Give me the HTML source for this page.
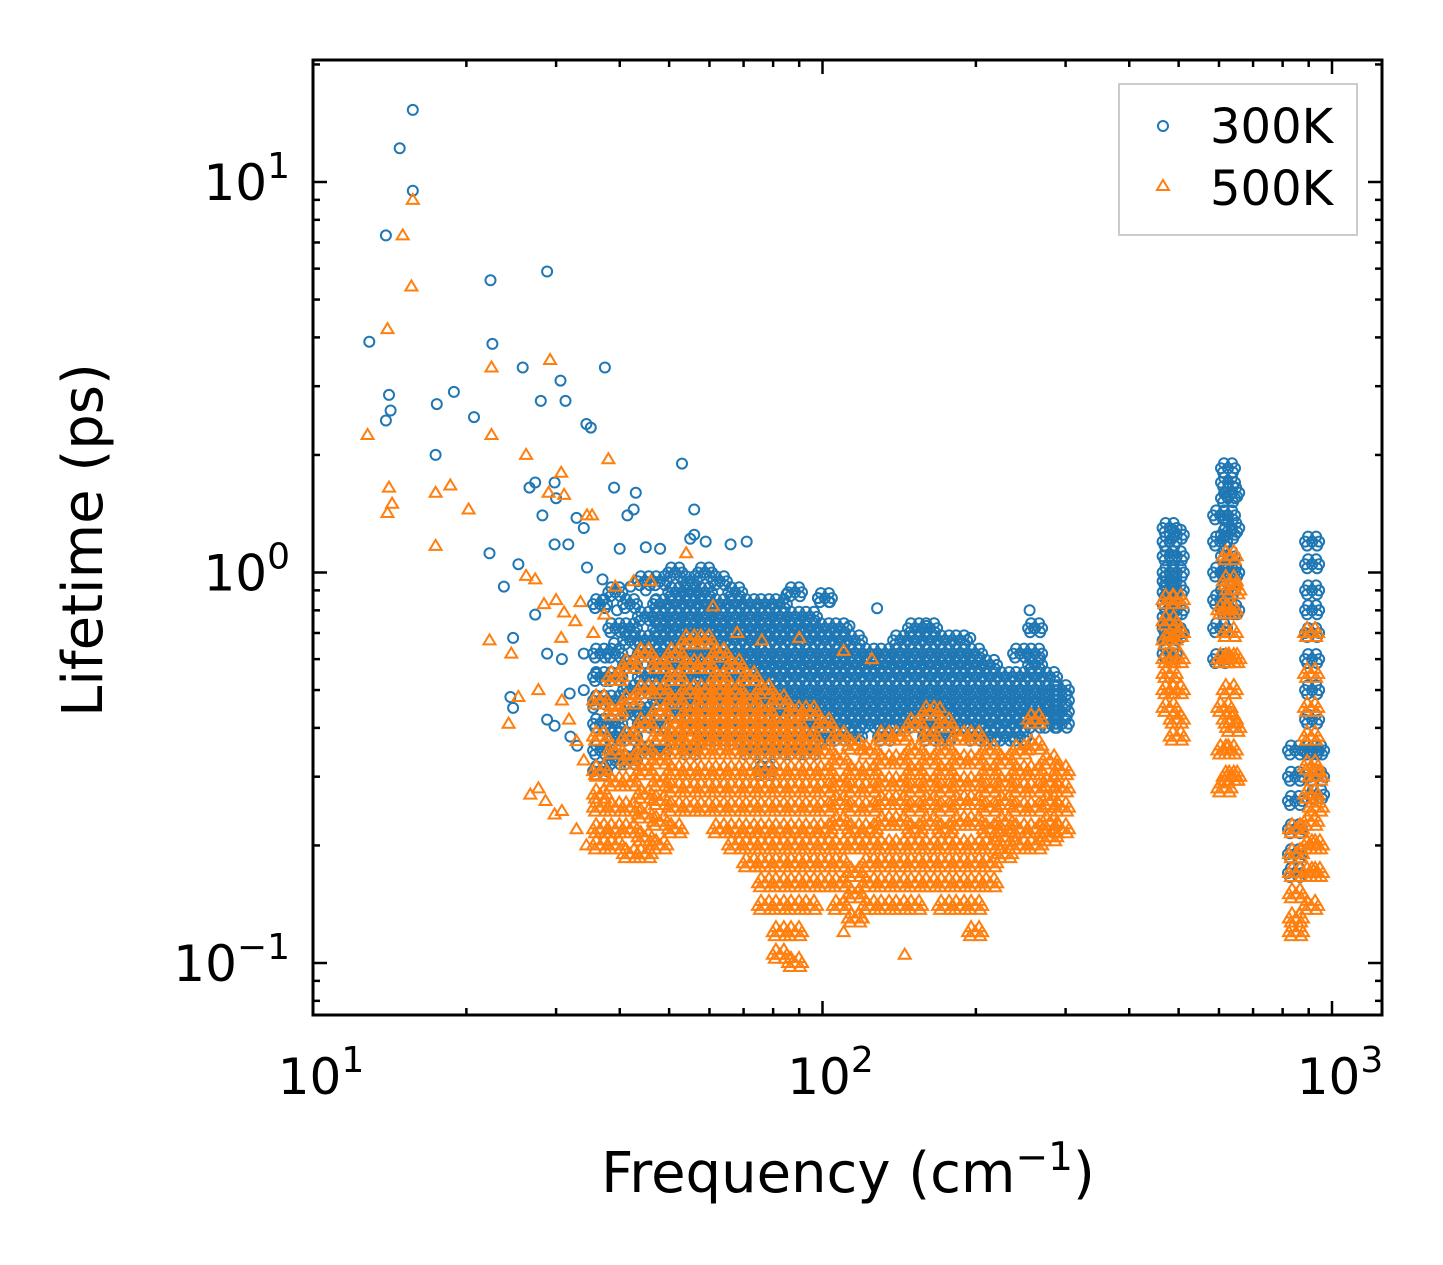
<!DOCTYPE html>
<html><head><meta charset="utf-8"><style>
html,body{margin:0;padding:0;background:#fff}
svg{display:block}
text{font-family:"DejaVu Sans","Liberation Sans",sans-serif;fill:#000}
</style></head><body>
<svg id="chart" width="1443" height="1265" viewBox="0 0 1443 1265" xmlns="http://www.w3.org/2000/svg">
<rect x="0" y="0" width="1443" height="1265" fill="#fff"/>
<g id="marks"></g>
<g id="axes"></g>
<g id="legend">
<rect x="1119" y="84" width="238" height="151" fill="#fff" fill-opacity="0.8" stroke="#ccc" stroke-width="2"/>
<circle cx="1163" cy="126" r="5" fill="none" stroke="#1f77b4" stroke-width="2"/>
<text x="1210" y="143" font-size="48">300K</text>
<path d="M1163 180 L1169 190 L1157 190 Z" fill="none" stroke="#ff7f0e" stroke-width="2"/>
<text x="1210" y="205" font-size="48">500K</text>
</g>
<text x="848" y="1192" font-size="56" text-anchor="middle">Frequency (cm<tspan dy="-22" font-size="39">−1</tspan><tspan dy="22">)</tspan></text>
<text transform="translate(102,540) rotate(-90)" font-size="56" text-anchor="middle">Lifetime (ps)</text>
</svg>
<script>
// ---- data: sparse points ----
const sparseFreq300 = [15.7,14.8,15.7,13.9,12.9,14.1,14.2,13.9,17.5,18.9,20.7,17.4,22.3,22.5,25.8,28.8,30.6,28.0,31.3,37.4,34.4,35.1,53,26.6,27.3,29.8,30.0,39,43,22.2,25.3,29.8,31.7,28.2,32.9,34,41.4,42.6,40,45,48,55,56,66,71,23.7,24.7,27.3,28.8,30.8,24.4,24.7,28.8,29.8,31.9,34,36,39,39.5,34.5,37,37,42,45,47,85,98,103,128,255,160,195,113,260,56,59,34,35.5,32,33];
const sparseLife300 = [15.3,12.2,9.5,7.3,3.9,2.85,2.6,2.45,2.7,2.9,2.5,2.0,5.6,3.85,3.35,5.9,3.1,2.75,2.75,3.35,2.4,2.35,1.9,1.65,1.7,1.7,1.55,1.65,1.6,1.12,1.05,1.18,1.18,1.4,1.38,1.3,1.4,1.45,1.15,1.16,1.15,1.22,1.45,1.18,1.2,0.92,0.68,0.78,0.62,0.6,0.48,0.45,0.42,0.405,0.49,0.62,0.55,0.66,0.8,1.03,0.85,0.96,0.92,0.9,0.85,0.88,0.86,0.84,0.81,0.8,0.73,0.68,0.73,0.72,1.25,1.2,0.5,0.45,0.38,0.36];
const sparseFreq500 = [15.7,15.0,15.6,14.0,12.8,14.1,14.3,14.0,17.4,17.4,18.6,20.2,22.4,22.4,26.2,29.2,30.7,29.0,31.1,34.5,35.3,38,22.2,24.5,24.2,26.2,27.3,28.4,30.0,30.7,31.1,32.7,33.5,35.5,37.3,39.2,42.6,46,54,61,26.7,27.7,28.6,29.8,30.8,25.3,27.7,30.8,31.8,32.9,34,36,32.9,34.4,68,76,90,110,125,145,120,110,170];
const sparseLife500 = [9.0,7.3,5.4,4.2,2.25,1.65,1.5,1.42,1.6,1.17,1.67,1.45,3.35,2.25,2.0,3.5,1.8,1.6,1.58,1.4,1.4,1.95,0.67,0.62,0.41,0.98,0.96,0.83,0.85,0.68,0.79,0.75,0.84,0.7,0.78,0.92,0.95,0.95,1.12,0.82,0.27,0.28,0.26,0.24,0.245,0.48,0.5,0.47,0.42,0.37,0.33,0.3,0.22,0.2,0.7,0.67,0.68,0.63,0.6,0.105,0.13,0.12,0.45];
// ---- data: dense clouds, per frequency column ----
const colFreq300 = [36.6,39.2,41.9,44.8,48.0,51.4,55.0,58.8,62.9,67.4,72.1,77.1,82.5,88.3,94.5,101.1,108.2,115.8,123.9,132.7,142.0,151.9,162.6,174.0,186.2,199.3,213.3,228.2,244.2,261.4,279.7,295.1,480,496,603,625,637,846,914,935];
const colLife300 = [
[0.83,0.62,0.54,0.47,0.41,0.35,0.31],
[0.89,0.72,0.62,0.54,0.47,0.41,0.38,0.33],
[0.83,0.72,0.67,0.58,0.5,0.44,0.38,0.33],
[0.95,0.77,0.67,0.62,0.54,0.5,0.44,0.41,0.35],
[0.95,0.83,0.77,0.72,0.67,0.62,0.58,0.54,0.5,0.47,0.41,0.35],
[1.0,0.89,0.83,0.77,0.72,0.67,0.62,0.58,0.54,0.5,0.47,0.44,0.38],
[0.95,0.89,0.83,0.77,0.72,0.67,0.62,0.58,0.54,0.5,0.47,0.44,0.41,0.35],
[1.0,0.89,0.83,0.77,0.72,0.67,0.62,0.58,0.54,0.5,0.47,0.44,0.41,0.38],
[0.95,0.83,0.77,0.72,0.67,0.62,0.58,0.54,0.5,0.47,0.44,0.41,0.38],
[0.89,0.83,0.77,0.72,0.67,0.62,0.58,0.54,0.5,0.47,0.44,0.41,0.38],
[0.83,0.77,0.72,0.67,0.62,0.58,0.54,0.5,0.47,0.44,0.41,0.38,0.35],
[0.83,0.77,0.72,0.67,0.62,0.58,0.54,0.5,0.47,0.44,0.41,0.38,0.35,0.31],
[0.83,0.77,0.72,0.67,0.62,0.58,0.54,0.5,0.47,0.44,0.41,0.38,0.35],
[0.89,0.77,0.72,0.67,0.62,0.58,0.54,0.5,0.47,0.44,0.41,0.38,0.35],
[0.77,0.72,0.67,0.62,0.58,0.54,0.5,0.47,0.44,0.41,0.38,0.35],
[0.86,0.72,0.67,0.62,0.58,0.54,0.5,0.47,0.44,0.41,0.38],
[0.72,0.67,0.62,0.58,0.54,0.5,0.47,0.44,0.41,0.38],
[0.67,0.62,0.58,0.54,0.5,0.47,0.44,0.41,0.38],
[0.62,0.58,0.54,0.5,0.47,0.44,0.41],
[0.62,0.58,0.54,0.5,0.47,0.44,0.41,0.38],
[0.67,0.62,0.58,0.54,0.5,0.47,0.44,0.41],
[0.72,0.67,0.62,0.58,0.54,0.5,0.47,0.44,0.41],
[0.72,0.67,0.62,0.58,0.54,0.5,0.47,0.44,0.41,0.38],
[0.67,0.62,0.58,0.54,0.5,0.47,0.44,0.41,0.38],
[0.67,0.62,0.58,0.54,0.5,0.47,0.44,0.41],
[0.62,0.58,0.54,0.5,0.47,0.44,0.41,0.38],
[0.58,0.54,0.5,0.47,0.44,0.41,0.38],
[0.54,0.5,0.47,0.44,0.41,0.38],
[0.62,0.54,0.5,0.47,0.44,0.41,0.38],
[0.72,0.62,0.58,0.54,0.5,0.47,0.44,0.41],
[0.54,0.5,0.47,0.44,0.41],
[0.5,0.47,0.44,0.41],
[1.3,1.2,1.1,1.0,0.95,0.89,0.83,0.77,0.72,0.67,0.62],
[1.25,1.1,1.0,0.9,0.8,0.7],
[1.4,1.2,1.0,0.85,0.72,0.6],
[1.85,1.7,1.55,1.4,1.25,1.1,1.0,0.9,0.8],
[1.6,1.3,1.0,0.8],
[0.35,0.3,0.26,0.22,0.19,0.17],
[1.2,1.05,0.9,0.8,0.7,0.6,0.5,0.42,0.35],
[0.35,0.3,0.27]
];
const colFreq500 = [36.6,39.2,41.9,44.8,48.0,51.4,55.0,58.8,62.9,67.4,72.1,77.1,82.5,88.3,94.5,101.1,108.2,115.8,123.9,132.7,142.0,151.9,162.6,174.0,186.2,199.3,213.3,228.2,244.2,261.4,279.7,295.1,480,496,615,630,640,850,910,930];
const colLife500 = [
[0.47,0.38,0.31,0.27,0.25,0.22,0.2],
[0.54,0.44,0.35,0.29,0.25,0.22,0.2],
[0.58,0.47,0.38,0.33,0.29,0.25,0.22,0.19],
[0.62,0.5,0.41,0.35,0.31,0.27,0.24,0.21,0.19],
[0.58,0.5,0.44,0.38,0.33,0.29,0.26,0.23,0.2],
[0.62,0.54,0.47,0.41,0.38,0.35,0.31,0.28,0.25,0.22],
[0.67,0.58,0.5,0.44,0.41,0.38,0.35,0.31,0.28,0.25],
[0.67,0.58,0.5,0.47,0.44,0.41,0.38,0.35,0.31,0.28,0.25],
[0.62,0.54,0.5,0.47,0.44,0.41,0.38,0.35,0.31,0.28,0.25,0.22],
[0.58,0.5,0.47,0.44,0.41,0.38,0.35,0.31,0.28,0.25,0.22,0.2],
[0.54,0.47,0.44,0.41,0.38,0.35,0.31,0.28,0.25,0.22,0.2,0.18],
[0.5,0.44,0.41,0.38,0.35,0.31,0.28,0.25,0.22,0.2,0.18,0.16,0.14],
[0.47,0.41,0.38,0.35,0.31,0.28,0.25,0.22,0.2,0.18,0.16,0.14,0.12,0.105],
[0.44,0.41,0.38,0.35,0.31,0.28,0.25,0.22,0.2,0.18,0.16,0.14,0.12,0.1],
[0.44,0.38,0.35,0.31,0.28,0.25,0.22,0.2,0.18,0.16,0.14],
[0.41,0.35,0.31,0.28,0.25,0.22,0.2,0.18,0.16],
[0.38,0.33,0.29,0.26,0.23,0.2,0.18,0.16,0.14],
[0.36,0.31,0.28,0.25,0.22,0.2,0.17,0.15,0.13],
[0.35,0.31,0.28,0.25,0.22,0.2,0.18,0.16,0.14],
[0.38,0.33,0.29,0.26,0.23,0.2,0.18,0.16,0.14],
[0.38,0.33,0.29,0.26,0.23,0.2,0.18,0.16,0.14],
[0.41,0.35,0.31,0.28,0.25,0.22,0.2,0.18,0.16,0.14],
[0.44,0.38,0.33,0.29,0.26,0.23,0.2,0.18,0.16],
[0.41,0.35,0.31,0.28,0.25,0.22,0.2,0.18,0.16,0.14],
[0.38,0.33,0.29,0.26,0.23,0.2,0.18,0.16,0.14],
[0.38,0.33,0.29,0.26,0.23,0.2,0.18,0.16,0.14,0.12],
[0.35,0.31,0.28,0.25,0.22,0.2,0.18,0.16],
[0.33,0.29,0.26,0.23,0.21,0.19],
[0.35,0.31,0.28,0.25,0.22,0.2],
[0.42,0.36,0.31,0.28,0.25,0.22,0.2],
[0.33,0.29,0.26,0.23,0.21],
[0.31,0.28,0.25,0.22],
[0.85,0.75,0.67,0.6,0.55,0.5,0.45],
[0.85,0.7,0.6,0.5,0.42,0.38],
[0.8,0.6,0.45,0.35,0.28],
[1.1,0.95,0.8,0.7,0.6,0.5,0.42,0.35,0.3],
[0.9,0.6,0.4,0.3],
[0.22,0.19,0.17,0.15,0.13,0.12],
[0.7,0.55,0.45,0.38,0.32,0.27,0.23,0.2,0.17,0.14],
[0.3,0.25,0.2,0.17]
];
const xTickValues = [10,100,1000];
const xTickExps = ["1","2","3"];
const yTickValues = [0.1,1,10];
const yTickExps = ["−1","0","1"];

// ---- axes ----
const PL=313,PR=1382,PT=60,PB=1015;
const X0=1,XDEC=509.5,Y0=1,YDEC=390.5,YREF=182;
function xs(v){return PL+(Math.log10(v)-X0)*XDEC;}
function ys(v){return YREF-(Math.log10(v)-Y0)*YDEC;}
const NS="http://www.w3.org/2000/svg";
function mk(tag,attrs,parent){const e=document.createElementNS(NS,tag);for(const k in attrs)e.setAttribute(k,attrs[k]);parent.appendChild(e);return e;}
const marks=document.getElementById('marks');
const axes=document.getElementById('axes');

const g300=mk('g',{},marks);


const g500=mk('g',{},marks);



// cloud glyph: each dense-cloud value drawn as a small marker cluster (rendering style only)
const CL=[[0,0],[5,4],[-5,4],[4,-5],[-4,-5],[7,0],[-7,0]];
function circ(f,l,cl){
  const offs=cl?CL:[[0,0]];
  offs.forEach(o=>{
    const c=mk('circle',{cx:(xs(f)+o[0]).toFixed(1),cy:(ys(l)+o[1]).toFixed(1),r:5,fill:'none',stroke:'#1f77b4','stroke-width':2},g300);
    
    
  });
}
function tri(f,l,cl){
  const offs=cl?CL:[[0,0]];
  offs.forEach(o=>{
    const x=xs(f)+o[0],y=ys(l)+o[1];
    const p=mk('path',{d:`M${x.toFixed(1)} ${(y-6).toFixed(1)} L${(x+6).toFixed(1)} ${(y+4).toFixed(1)} L${(x-6).toFixed(1)} ${(y+4).toFixed(1)} Z`,fill:'none',stroke:'#ff7f0e','stroke-width':2},g500);
    
    
  });
}
sparseFreq300.forEach((f,i)=>circ(f,sparseLife300[i],false));
colFreq300.forEach((f,i)=>colLife300[i].forEach(l=>circ(f,l,true)));
sparseFreq500.forEach((f,i)=>tri(f,sparseLife500[i],false));
colFreq500.forEach((f,i)=>colLife500[i].forEach(l=>tri(f,l,true)));

// frame
const fr=mk('rect',{x:PL,y:PT,width:PR-PL,height:PB-PT,fill:'none',stroke:'#000','stroke-width':3},axes);


for(let d=1;d<=3;d++){for(let m=1;m<10;m++){const v=m*Math.pow(10,d);const x=xs(v);if(x<PL-0.5||x>PR+0.5)continue;const L=m===1?14:7;
  mk('line',{x1:x,x2:x,y1:PB,y2:PB-L,stroke:'#000','stroke-width':2.5},axes);
  mk('line',{x1:x,x2:x,y1:PT,y2:PT+L,stroke:'#000','stroke-width':2.5},axes);}}
for(let d=-2;d<=1;d++){for(let m=1;m<10;m++){const v=m*Math.pow(10,d);const y=ys(v);if(y<PT-0.5||y>PB+0.5)continue;const L=m===1?14:7;
  mk('line',{x1:PL,x2:PL+L,y1:y,y2:y,stroke:'#000','stroke-width':2.5},axes);
  mk('line',{x1:PR,x2:PR-L,y1:y,y2:y,stroke:'#000','stroke-width':2.5},axes);}}
xTickValues.forEach((v,i)=>{
  const t=mk('text',{x:xs(v)+8,y:1094,'font-size':50,'text-anchor':'middle'},axes);
  
  
  t.innerHTML='10<tspan dy="-22" font-size="36">'+xTickExps[i]+'</tspan>';
});
yTickValues.forEach((v,i)=>{
  const t=mk('text',{x:290,y:ys(v)+18,'font-size':50,'text-anchor':'end'},axes);
  
  
  t.innerHTML='10<tspan dy="-22" font-size="36">'+yTickExps[i]+'</tspan>';
});
</script>
</body></html>
